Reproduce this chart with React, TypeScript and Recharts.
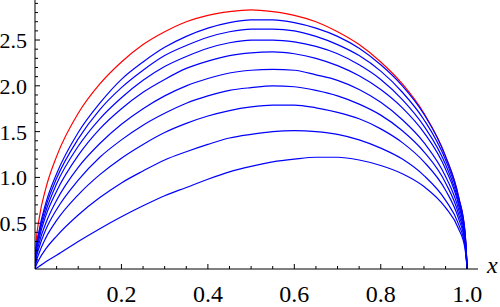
import React from 'react';
import { LineChart, Line, XAxis, YAxis } from 'recharts';

const xs = [0, 0.002, 0.01, 0.025, 0.05, 0.1, 0.15, 0.2, 0.25, 0.3, 0.35, 0.4, 0.45, 0.5, 0.55, 0.6, 0.65, 0.7, 0.75, 0.8, 0.85, 0.9, 0.95, 0.98, 0.995, 1];

const red = [0, 0.25, 0.56, 0.88, 1.23, 1.70, 2.02, 2.26, 2.45, 2.59, 2.70, 2.77, 2.81, 2.83, 2.81, 2.77, 2.70, 2.59, 2.45, 2.26, 2.02, 1.70, 1.23, 0.79, 0.40, 0];
const b9 = [0, 0.18, 0.43, 0.72, 1.04, 1.49, 1.81, 2.07, 2.26, 2.42, 2.54, 2.63, 2.69, 2.72, 2.72, 2.69, 2.63, 2.54, 2.41, 2.23, 2.00, 1.69, 1.23, 0.79, 0.40, 0];
const b8 = [0, 0.17, 0.41, 0.68, 0.99, 1.42, 1.74, 1.98, 2.17, 2.33, 2.44, 2.53, 2.59, 2.62, 2.62, 2.60, 2.54, 2.45, 2.33, 2.16, 1.93, 1.63, 1.19, 0.77, 0.39, 0];
const b7 = [0, 0.15, 0.38, 0.63, 0.93, 1.34, 1.64, 1.87, 2.06, 2.21, 2.32, 2.41, 2.47, 2.50, 2.50, 2.48, 2.43, 2.35, 2.23, 2.07, 1.85, 1.56, 1.14, 0.73, 0.37, 0];
const b6 = [0, 0.13, 0.34, 0.58, 0.85, 1.24, 1.53, 1.75, 1.93, 2.07, 2.19, 2.27, 2.33, 2.36, 2.37, 2.35, 2.30, 2.22, 2.11, 1.96, 1.76, 1.49, 1.09, 0.70, 0.35, 0];
const b5 = [0, 0.11, 0.29, 0.50, 0.75, 1.11, 1.37, 1.58, 1.75, 1.89, 2.00, 2.08, 2.14, 2.17, 2.18, 2.17, 2.12, 2.06, 1.96, 1.82, 1.63, 1.38, 1.01, 0.65, 0.33, 0];
const b4 = [0, 0.09, 0.24, 0.43, 0.65, 0.97, 1.22, 1.41, 1.57, 1.70, 1.81, 1.89, 1.95, 1.98, 2.00, 1.99, 1.95, 1.89, 1.80, 1.68, 1.51, 1.28, 0.94, 0.60, 0.30, 0];
const b3 = [0, 0.06, 0.18, 0.34, 0.53, 0.81, 1.03, 1.21, 1.36, 1.49, 1.59, 1.67, 1.73, 1.77, 1.79, 1.79, 1.76, 1.71, 1.64, 1.53, 1.38, 1.17, 0.86, 0.55, 0.28, 0];
const b2 = [0, 0.03, 0.11, 0.22, 0.36, 0.59, 0.78, 0.94, 1.07, 1.19, 1.28, 1.36, 1.43, 1.47, 1.50, 1.51, 1.50, 1.47, 1.41, 1.32, 1.20, 1.02, 0.75, 0.49, 0.25, 0];
const b1 = [0, 0.006, 0.03, 0.08, 0.15, 0.30, 0.44, 0.57, 0.69, 0.80, 0.89, 0.98, 1.06, 1.12, 1.17, 1.20, 1.22, 1.22, 1.19, 1.13, 1.04, 0.90, 0.67, 0.44, 0.22, 0];

const blueSeries = [b1, b2, b3, b4, b5, b6, b7, b8, b9];

const xTicks = [0.05, 0.1, 0.15, 0.2, 0.25, 0.3, 0.35, 0.4, 0.45, 0.5, 0.55, 0.6, 0.65, 0.7, 0.75, 0.8, 0.85, 0.9, 0.95, 1.0];
const xMajor = ['0.2', '0.4', '0.6', '0.8', '1.0'];
const yTicks = [0.1, 0.2, 0.3, 0.4, 0.5, 0.6, 0.7, 0.8, 0.9, 1.0, 1.1, 1.2, 1.3, 1.4, 1.5, 1.6, 1.7, 1.8, 1.9, 2.0, 2.1, 2.2, 2.3, 2.4, 2.5, 2.6, 2.7, 2.8, 2.9];
const yMajor = ['0.5', '1.0', '1.5', '2.0', '2.5'];

const data = xs.map((x, i) => {
  const row: Record<string, number> = { x, r: red[i] };
  blueSeries.forEach((s, k) => {
    row['b' + (k + 1)] = s[i];
  });
  return row;
});

const FONT = "'Liberation Serif', 'Times New Roman', Times, serif";

const XTick = (props: any) => {
  const { x, y, payload } = props;
  const label = Number(payload.value).toFixed(1);
  const isMajor = xMajor.includes(label) && Math.abs(payload.value * 5 - Math.round(payload.value * 5)) < 1e-6;
  return (
    <g>
      <line x1={x} x2={x} y1={y} y2={y - (isMajor ? 5 : 3)} stroke="#000" strokeWidth={1} />
      {isMajor && (
        <text x={x} y={y + 33} textAnchor="middle" style={{ fontFamily: FONT, fontSize: 24 }} fill="#000">
          {label}
        </text>
      )}
    </g>
  );
};

const YTick = (props: any) => {
  const { x, y, payload } = props;
  const label = Number(payload.value).toFixed(1);
  const isMajor = yMajor.includes(label) && Math.abs(payload.value * 2 - Math.round(payload.value * 2)) < 1e-6;
  return (
    <g>
      <line x1={x} x2={x + (isMajor ? 5 : 3)} y1={y} y2={y} stroke="#000" strokeWidth={1} />
      {isMajor && (
        <text x={x - 8} y={y + 8} textAnchor="end" style={{ fontFamily: FONT, fontSize: 22 }} fill="#000">
          {label}
        </text>
      )}
    </g>
  );
};

export default function App() {
  return (
    <div style={{ position: 'absolute', left: 0, top: 0, width: 500, height: 307, background: '#fff' }}>
      <LineChart
        width={500}
        height={307}
        data={data}
        margin={{ top: 0, right: 22, bottom: 0, left: 0 }}
      >
        <XAxis
          dataKey="x"
          type="number"
          domain={[0, 1.025]}
          ticks={xTicks}
          interval={0}
          tickSize={0}
          tickMargin={0}
          height={38}
          axisLine={{ stroke: '#000', strokeWidth: 1 }}
          tick={<XTick />}
          allowDataOverflow
        />
        <YAxis
          type="number"
          domain={[0, 2.937]}
          ticks={yTicks}
          interval={0}
          tickSize={0}
          tickMargin={0}
          width={35}
          axisLine={{ stroke: '#000', strokeWidth: 1 }}
          tick={<YTick />}
          allowDataOverflow
        />
        <Line dataKey="r" type="monotone" stroke="#ff0000" strokeWidth={1.2} dot={false} activeDot={false} isAnimationActive={false} />
        {blueSeries.map((_, k) => (
          <Line
            key={k}
            dataKey={'b' + (k + 1)}
            type="monotone"
            stroke="#0000ff"
            strokeWidth={1.2}
            dot={false}
            activeDot={false}
            isAnimationActive={false}
          />
        ))}
      </LineChart>
      <div
        style={{
          position: 'absolute',
          left: 487,
          top: 253,
          fontFamily: FONT,
          fontStyle: 'italic',
          fontSize: 24,
          lineHeight: '24px',
          color: '#000',
        }}
      >
        x
      </div>
    </div>
  );
}
